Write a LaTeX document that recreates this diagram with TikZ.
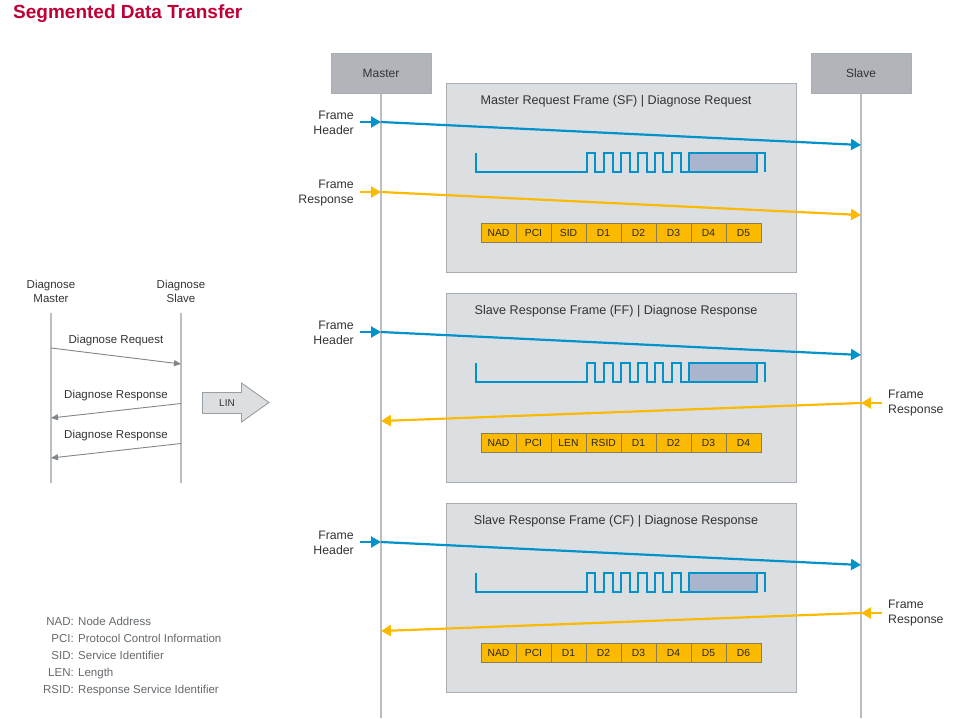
\documentclass[tikz,border=0pt]{standalone}
\usepackage{fontspec}
\setmainfont{Liberation Sans}
\usetikzlibrary{arrows.meta}
\definecolor{ttl}{RGB}{190,0,55}
\definecolor{blu}{RGB}{0,146,200}
\definecolor{yel}{RGB}{251,185,0}
\definecolor{lif}{RGB}{186,190,194}
\definecolor{hdr}{RGB}{177,181,185}
\definecolor{frm}{RGB}{220,223,226}
\definecolor{frmb}{RGB}{170,174,178}
\definecolor{txt}{RGB}{51,51,51}
\definecolor{sig}{RGB}{169,181,204}
\definecolor{cellb}{RGB}{140,125,80}
\definecolor{gar}{RGB}{130,134,138}
\definecolor{leg}{RGB}{100,104,108}
\begin{document}
\begin{tikzpicture}[x=1pt,y=-1pt,
  actor/.style={draw=frmb, fill=hdr, line width=1pt, minimum width=100pt, minimum height=40pt, inner sep=0pt, font=\fontsize{12}{14}\selectfont, text=txt},
  framebox/.style={draw=frmb, fill=frm, line width=1pt, minimum width=350pt, minimum height=189pt, inner sep=0pt},
  ftitle/.style={font=\fontsize{12.6}{14}\selectfont, text=txt, inner sep=0pt, text height=9pt, text depth=3pt},
  cell/.style={draw=cellb, fill=yel, line width=0.8pt, minimum width=35pt, minimum height=19pt, inner sep=0pt, font=\fontsize{10.3}{12}\selectfont, text=black!85, text height=7.5pt, text depth=0.5pt},
  lifeline/.style={draw=lif, line width=1.5pt},
  hdrarrow/.style={draw=blu, line width=2.2pt, -{Triangle[length=10pt,width=11pt]}},
  resarrow/.style={draw=yel, line width=2.2pt, -{Triangle[length=10pt,width=11pt]}},
  flabel/.style={font=\fontsize{12.3}{15}\selectfont, text=txt, inner sep=0pt, align=right},
  flabelr/.style={font=\fontsize{12.3}{15}\selectfont, text=txt, inner sep=0pt, align=left},
  sigline/.style={draw=blu, line width=1.8pt},
  dlabel/.style={font=\fontsize{11.5}{14}\selectfont, text=txt, inner sep=0pt, align=center},
  garrow/.style={draw=gar, line width=0.9pt, -{Triangle[length=7pt,width=6pt]}},
  dline/.style={draw=lif, line width=1.5pt},
  legk/.style={font=\fontsize{11.5}{14}\selectfont, text=leg, inner sep=0pt, anchor=east, text height=8.5pt, text depth=2.5pt},
  legv/.style={font=\fontsize{11.5}{14}\selectfont, text=leg, inner sep=0pt, anchor=west, text height=8.5pt, text depth=2.5pt}
]
\useasboundingbox (0,0) rectangle (966,718);
% title
\node[anchor=west, inner sep=0pt, font=\fontsize{19}{21}\bfseries\selectfont, text=ttl, text height=13.5pt, text depth=4pt] (title) at (13,14) {Segmented Data Transfer};

% frame boxes
\node[framebox] (f1) at (621,177.5) {};
\node[framebox] (f2) at (621,387.5) {};
\node[framebox] (f3) at (621,597.5) {};
\node[ftitle] (t1) at (616,101) {Master Request Frame (SF) | Diagnose Request};
\node[ftitle] (t2) at (616,311) {Slave Response Frame (FF) | Diagnose Response};
\node[ftitle] (t3) at (616,521) {Slave Response Frame (CF) | Diagnose Response};

% actors and lifelines
\node[actor] (master) at (381,73) {Master};
\node[actor] (slave) at (861,73) {Slave};
\coordinate (mend) at (381,718);
\coordinate (send) at (861,718);
\draw[lifeline] (master.south) -- (mend);
\draw[lifeline] (slave.south) -- (send);

% waveforms
\foreach \o in {0,210,420}{
  \draw[sigline, fill=sig] (689,153+\o) rectangle (757,172+\o);
  \draw[sigline, line join=miter] (476,153+\o) -- (476,172+\o) -- (587,172+\o) -- (587,153+\o) -- (595,153+\o) -- (595,172+\o) -- (604,172+\o) -- (604,153+\o) -- (613,153+\o) -- (613,172+\o) -- (621,172+\o) -- (621,153+\o) -- (630,153+\o) -- (630,172+\o) -- (638,172+\o) -- (638,153+\o) -- (647,153+\o) -- (647,172+\o) -- (655,172+\o) -- (655,153+\o) -- (663,153+\o) -- (663,172+\o) -- (672,172+\o) -- (672,153+\o) -- (681,153+\o) -- (681,172+\o) -- (689,172+\o) -- (689,153+\o) -- (765,153+\o) -- (765,172+\o);
}

% byte cells
\foreach \t [count=\i] in {NAD,PCI,SID,D1,D2,D3,D4,D5}
  \node[cell] (a\i) at (463.5+35*\i,232.5) {\t};
\foreach \t [count=\i] in {NAD,PCI,LEN,RSID,D1,D2,D3,D4}
  \node[cell] (b\i) at (463.5+35*\i,442.5) {\t};
\foreach \t [count=\i] in {NAD,PCI,D1,D2,D3,D4,D5,D6}
  \node[cell] (c\i) at (463.5+35*\i,652.5) {\t};

% frame 1 arrows
\node[flabel, anchor=east] (h1) at (354,123) {Frame\\Header};
\node[flabel, anchor=east] (r1) at (354,193) {Frame\\Response};
\coordinate (h1s) at (360,122); \coordinate (h1m) at (381,122); \coordinate (h1e) at (861,145);
\coordinate (r1s) at (360,192); \coordinate (r1m) at (381,192); \coordinate (r1e) at (861,215);
\draw[hdrarrow] (h1s) -- (h1m);
\draw[hdrarrow] (h1m) -- (h1e);
\draw[resarrow] (r1s) -- (r1m);
\draw[resarrow] (r1m) -- (r1e);

% frame 2 arrows
\node[flabel, anchor=east] (h2) at (354,333) {Frame\\Header};
\node[flabelr, anchor=west] (r2) at (888,403) {Frame\\Response};
\coordinate (h2s) at (360,332); \coordinate (h2m) at (381,332); \coordinate (h2e) at (861,355);
\coordinate (r2s) at (882,403); \coordinate (r2m) at (861,403); \coordinate (r2e) at (381,421);
\draw[hdrarrow] (h2s) -- (h2m);
\draw[hdrarrow] (h2m) -- (h2e);
\draw[resarrow] (r2s) -- (r2m);
\draw[resarrow] (r2m) -- (r2e);

% frame 3 arrows
\node[flabel, anchor=east] (h3) at (354,543) {Frame\\Header};
\node[flabelr, anchor=west] (r3) at (888,613) {Frame\\Response};
\coordinate (h3s) at (360,542); \coordinate (h3m) at (381,542); \coordinate (h3e) at (861,565);
\coordinate (r3s) at (882,613); \coordinate (r3m) at (861,613); \coordinate (r3e) at (381,631);
\draw[hdrarrow] (h3s) -- (h3m);
\draw[hdrarrow] (h3m) -- (h3e);
\draw[resarrow] (r3s) -- (r3m);
\draw[resarrow] (r3m) -- (r3e);

% left diagram
\node[dlabel] (dm) at (51,291) {Diagnose\\Master};
\node[dlabel] (ds) at (181,291) {Diagnose\\Slave};
\coordinate (dmt) at (51,313); \coordinate (dmb) at (51,483);
\coordinate (dst) at (181,313); \coordinate (dsb) at (181,483);
\draw[dline] (dmt) -- (dmb);
\draw[dline] (dst) -- (dsb);
\node[dlabel, text height=8.5pt, text depth=2.5pt] (q1) at (116,340) {Diagnose Request};
\node[dlabel, text height=8.5pt, text depth=2.5pt] (p1) at (116,395) {Diagnose Response};
\node[dlabel, text height=8.5pt, text depth=2.5pt] (p2) at (116,435) {Diagnose Response};
\coordinate (q1s) at (51,348); \coordinate (q1e) at (181,364);
\coordinate (p1s) at (181,403.5); \coordinate (p1e) at (51,418);
\coordinate (p2s) at (181,443.5); \coordinate (p2e) at (51,458);
\draw[garrow] (q1s) -- (q1e);
\draw[garrow] (p1s) -- (p1e);
\draw[garrow] (p2s) -- (p2e);

% LIN block arrow
\draw[draw=gar!80, fill=frm, line width=0.9pt, line join=miter] (202.5,392.5) -- (241.5,392.5) -- (241.5,383) -- (269,402.5) -- (241.5,422) -- (241.5,413.5) -- (202.5,413.5) -- cycle;
\node[inner sep=0pt, font=\fontsize{10}{12}\selectfont, text=txt, text height=7.2pt, text depth=0pt] (lin) at (227,403) {LIN};

% legend
\node[legk] (k1) at (74,622) {NAD:}; \node[legv] (v1) at (78,622) {Node Address};
\node[legk] (k2) at (74,639) {PCI:}; \node[legv] (v2) at (78,639) {Protocol Control Information};
\node[legk] (k3) at (74,656) {SID:}; \node[legv] (v3) at (78,656) {Service Identifier};
\node[legk] (k4) at (74,673) {LEN:}; \node[legv] (v4) at (78,673) {Length};
\node[legk] (k5) at (74,690) {RSID:}; \node[legv] (v5) at (78,690) {Response Service Identifier};
\end{tikzpicture}
\end{document}
